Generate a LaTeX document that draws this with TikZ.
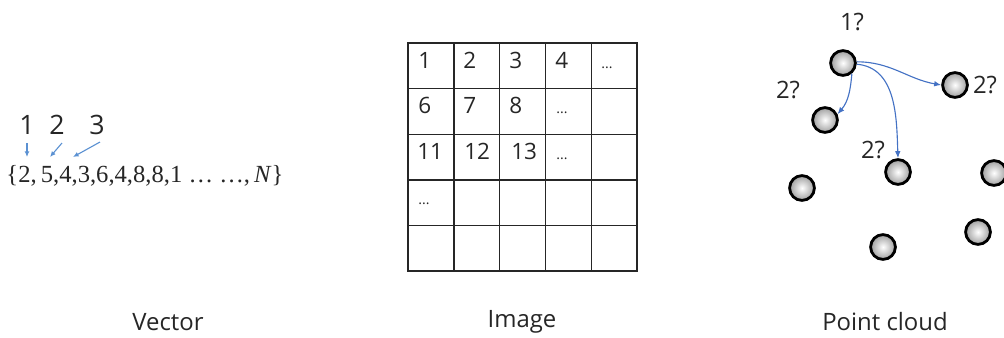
\documentclass[tikz,border=0pt]{standalone}
\usepackage{fontspec}
\setmainfont{Open Sans}
\newfontfamily\setfont{Liberation Serif}
\usetikzlibrary{arrows.meta}
\definecolor{idxblue}{RGB}{91,145,210}
\definecolor{linkblue}{RGB}{68,114,196}

\begin{document}
\begin{tikzpicture}[
    x=0.025cm, y=0.025cm,
    label/.style={font=\fontsize{17}{20}\selectfont, text=black!85},
    cell/.style={anchor=base west, inner sep=0pt, font=\fontsize{16}{19}\selectfont, text=black!85},
    dots/.style={anchor=base west, inner sep=0pt, font=\fontsize{10}{12}\selectfont, text=black!85},
    ball/.style={circle, draw=black, line width=2pt, minimum size=0.62cm, inner sep=0pt,
                 inner color=white, outer color=gray!75},
    idx/.style={-{Latex[length=4pt,width=3.5pt]}, idxblue, line width=0.8pt},
    link/.style={-{Latex[length=5pt,width=4pt]}, linkblue, line width=0.8pt},
    >=latex
]
    \useasboundingbox (0,-337) rectangle (1004,0);

    % 1. Vector
    \node[label, font=\fontsize{19}{22}\selectfont] (v1) at (27,-125) {1};
    \node[label, font=\fontsize{19}{22}\selectfont] (v2) at (57,-125) {2};
    \node[label, font=\fontsize{19}{22}\selectfont] (v3) at (97,-125) {3};
    \node[font=\fontsize{17.5}{21}\setfont\selectfont, text=black!85, inner sep=0pt] (vec) at (145,-176)
        {\{2,\,5,4,3,6,4,8,8,1 … …,\,\textit{N}\}};
    \coordinate (s1) at (27,-143);  \coordinate (t1) at (27,-157);
    \coordinate (s2) at (62,-143);  \coordinate (t2) at (50,-157);
    \coordinate (s3) at (100,-142); \coordinate (t3) at (73,-157);
    \draw[idx] (s1) -- (t1);
    \draw[idx] (s2) -- (t2);
    \draw[idx] (s3) -- (t3);
    \node[label] (vlab) at (168,-322) {Vector};

    % 2. Image (5x5 grid)
    \draw[line width=1pt, black!85] (408,-43) rectangle (637,-271);
    \foreach \i in {1,...,4} {
        \draw[line width=1pt, black!85] (408+45.8*\i,-43) -- (408+45.8*\i,-271);
        \draw[line width=1pt, black!85] (408,-43-45.6*\i) -- (637,-43-45.6*\i);
    }
    % row 1
    \node[cell] (c11) at (418,-68) {1};
    \node[cell] (c12) at (463,-68) {2};
    \node[cell] (c13) at (509,-68) {3};
    \node[cell] (c14) at (555,-68) {4};
    \node[dots] (c15) at (601,-68) {...};
    % row 2
    \node[cell] (c21) at (418,-113) {6};
    \node[cell] (c22) at (463,-113) {7};
    \node[cell] (c23) at (509,-113) {8};
    \node[dots] (c24) at (556,-113) {...};
    % row 3
    \node[cell] (c31) at (417,-159) {11};
    \node[cell] (c32) at (464,-159) {12};
    \node[cell] (c33) at (511,-159) {13};
    \node[dots] (c34) at (556,-159) {...};
    % row 4
    \node[dots] (c41) at (418,-204) {...};
    \node[label] (ilab) at (522,-322) {Image};

    % 3. Point cloud
    \node[ball] (p1) at (843,-63) {};
    \node[ball] (p2) at (955,-85) {};
    \node[ball] (p3) at (825,-120) {};
    \node[ball] (p4) at (898,-172) {};
    \node[ball] (p5) at (802,-188) {};
    \node[ball] (p6) at (994,-173) {};
    \node[ball] (p7) at (883,-247) {};
    \node[ball] (p8) at (978,-232) {};

    \node[label] (q1) at (852,-22) {1?};
    \node[label] (q2) at (788,-90) {2?};
    \node[label] (q3) at (985,-85) {2?};
    \node[label] (q4) at (873,-150) {2?};

    \draw[link] (p1.5) to[out=0,in=170] (p2.west);
    \draw[link] (p1.-50) to[out=-95,in=50] (p3.25);
    \draw[link] (p1.-5) to[out=-5,in=92] (p4.north);
    \node[label] (plab) at (885,-322) {Point cloud};

\end{tikzpicture}
\end{document}
